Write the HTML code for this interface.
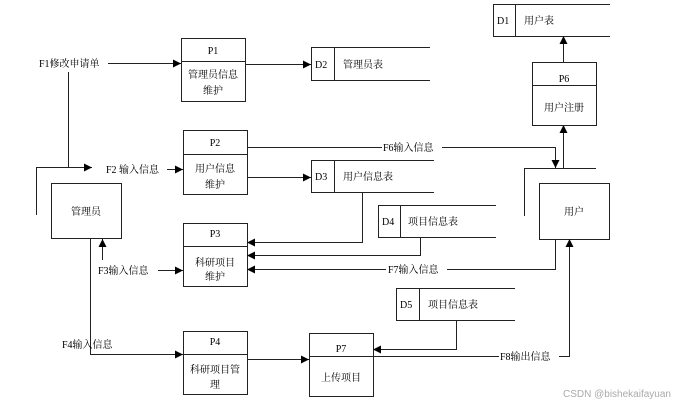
<!DOCTYPE html>
<html><head><meta charset="utf-8"><style>
body{margin:0;background:#fff}
svg text{font-family:"Liberation Serif","Noto Serif CJK SC","Noto Sans CJK SC",serif;font-size:10px;fill:#000}
</style></head><body>
<svg width="699" height="407" viewBox="0 0 699 407" xmlns="http://www.w3.org/2000/svg">
<defs><marker id="a" viewBox="0 0 10 10" refX="10" refY="5" markerWidth="8" markerHeight="8" orient="auto-start-reverse" markerUnits="userSpaceOnUse"><path d="M0,0L10,5L0,10z" fill="#000"/></marker></defs>
<g fill="#fff" stroke="#222" stroke-width="1">
<rect x="181.5" y="38.5" width="64" height="63"/><line x1="181" y1="61.5" x2="245" y2="61.5"/>
<rect x="183.5" y="130.5" width="64" height="64"/><line x1="183" y1="154.5" x2="247" y2="154.5"/>
<rect x="183.5" y="223.5" width="64" height="63"/><line x1="183" y1="246.5" x2="247" y2="246.5"/>
<rect x="183.5" y="331.5" width="64" height="63"/><line x1="183" y1="354.5" x2="247" y2="354.5"/>
<rect x="309.5" y="333.5" width="64" height="63"/><line x1="309" y1="356.5" x2="373" y2="356.5"/>
<rect x="532.5" y="62.5" width="64" height="63"/><line x1="532" y1="85.5" x2="596" y2="85.5"/>
<rect x="51.5" y="183.5" width="70" height="55"/>
<rect x="539.5" y="183.5" width="70" height="56"/>
</g>
<g fill="none" stroke="#222" stroke-width="1">
<path d="M610,4.5H493.5V36.5H610M515.5,4V36"/>
<path d="M430,47.5H311.5V80.5H430M334.5,47V80"/>
<path d="M434,160.5H311.5V192.5H434M334.5,160V192"/>
<path d="M496,205.5H378.5V237.5H496M400.5,205V237"/>
<path d="M515,288.5H396.5V320.5H515M419.5,288V320"/>
<path d="M108,63.5H181" marker-end="url(#a)"/>
<path d="M68.5,72V167.5"/>
<path d="M36.5,215V167.5H92" marker-end="url(#a)"/>
<path d="M167,169.5H183" marker-end="url(#a)"/>
<path d="M245,64.5H311" marker-end="url(#a)"/>
<path d="M247,147.5H382M442,147.5H555.5V168" marker-end="url(#a)"/>
<path d="M247,177.5H311" marker-end="url(#a)"/>
<path d="M524.5,216V168.5H596"/>
<path d="M563.5,168V125" marker-end="url(#a)"/>
<path d="M563.5,62V36" marker-end="url(#a)"/>
<path d="M362.5,192V242.5H247" marker-end="url(#a)"/>
<path d="M420.5,237V255.5H247" marker-end="url(#a)"/>
<path d="M555.5,239V269.5H447M386,269.5H247" marker-end="url(#a)"/>
<path d="M102.5,260V239" marker-end="url(#a)"/>
<path d="M158,270.5H183" marker-end="url(#a)"/>
<path d="M90.5,238V354.5H183" marker-end="url(#a)"/>
<path d="M247,359.5H309" marker-end="url(#a)"/>
<path d="M456.5,320V349.5H373" marker-end="url(#a)"/>
<path d="M373,356.5H499M559,356.5H569.5V239" marker-end="url(#a)"/>
</g>
<g text-anchor="middle">
<text x="213" y="54">P1</text><text x="213" y="78">管理员信息</text><text x="213" y="94">维护</text>
<text x="215" y="146">P2</text><text x="215" y="172">用户信息</text><text x="215" y="188">维护</text>
<text x="215" y="237">P3</text><text x="215" y="266">科研项目</text><text x="215" y="280">维护</text>
<text x="215" y="345">P4</text><text x="215" y="373">科研项目管</text><text x="215" y="388">理</text>
<text x="341" y="352">P7</text><text x="341" y="381">上传项目</text>
<text x="564" y="82">P6</text><text x="564" y="111">用户注册</text>
<text x="86" y="215">管理员</text><text x="574" y="215">用户</text>
</g>
<text x="497" y="24">D1</text><text x="524" y="24">用户表</text>
<text x="315" y="68">D2</text><text x="343" y="68">管理员表</text>
<text x="315" y="180">D3</text><text x="343" y="180">用户信息表</text>
<text x="382" y="225">D4</text><text x="408" y="225">项目信息表</text>
<text x="400" y="308">D5</text><text x="428" y="308">项目信息表</text>
<text x="39" y="67">F1修改申请单</text>
<text x="106" y="173">F2 输入信息</text>
<text x="383" y="151">F6输入信息</text>
<text x="388" y="273">F7输入信息</text>
<text x="98" y="274">F3输入信息</text>
<text x="62" y="348">F4输入信息</text>
<text x="500" y="360">F8输出信息</text>
<text x="563" y="397" style="fill:#aaa;font-family:'Liberation Sans',sans-serif;font-size:10px">CSDN @bishekaifayuan</text>
</svg>
</body></html>
